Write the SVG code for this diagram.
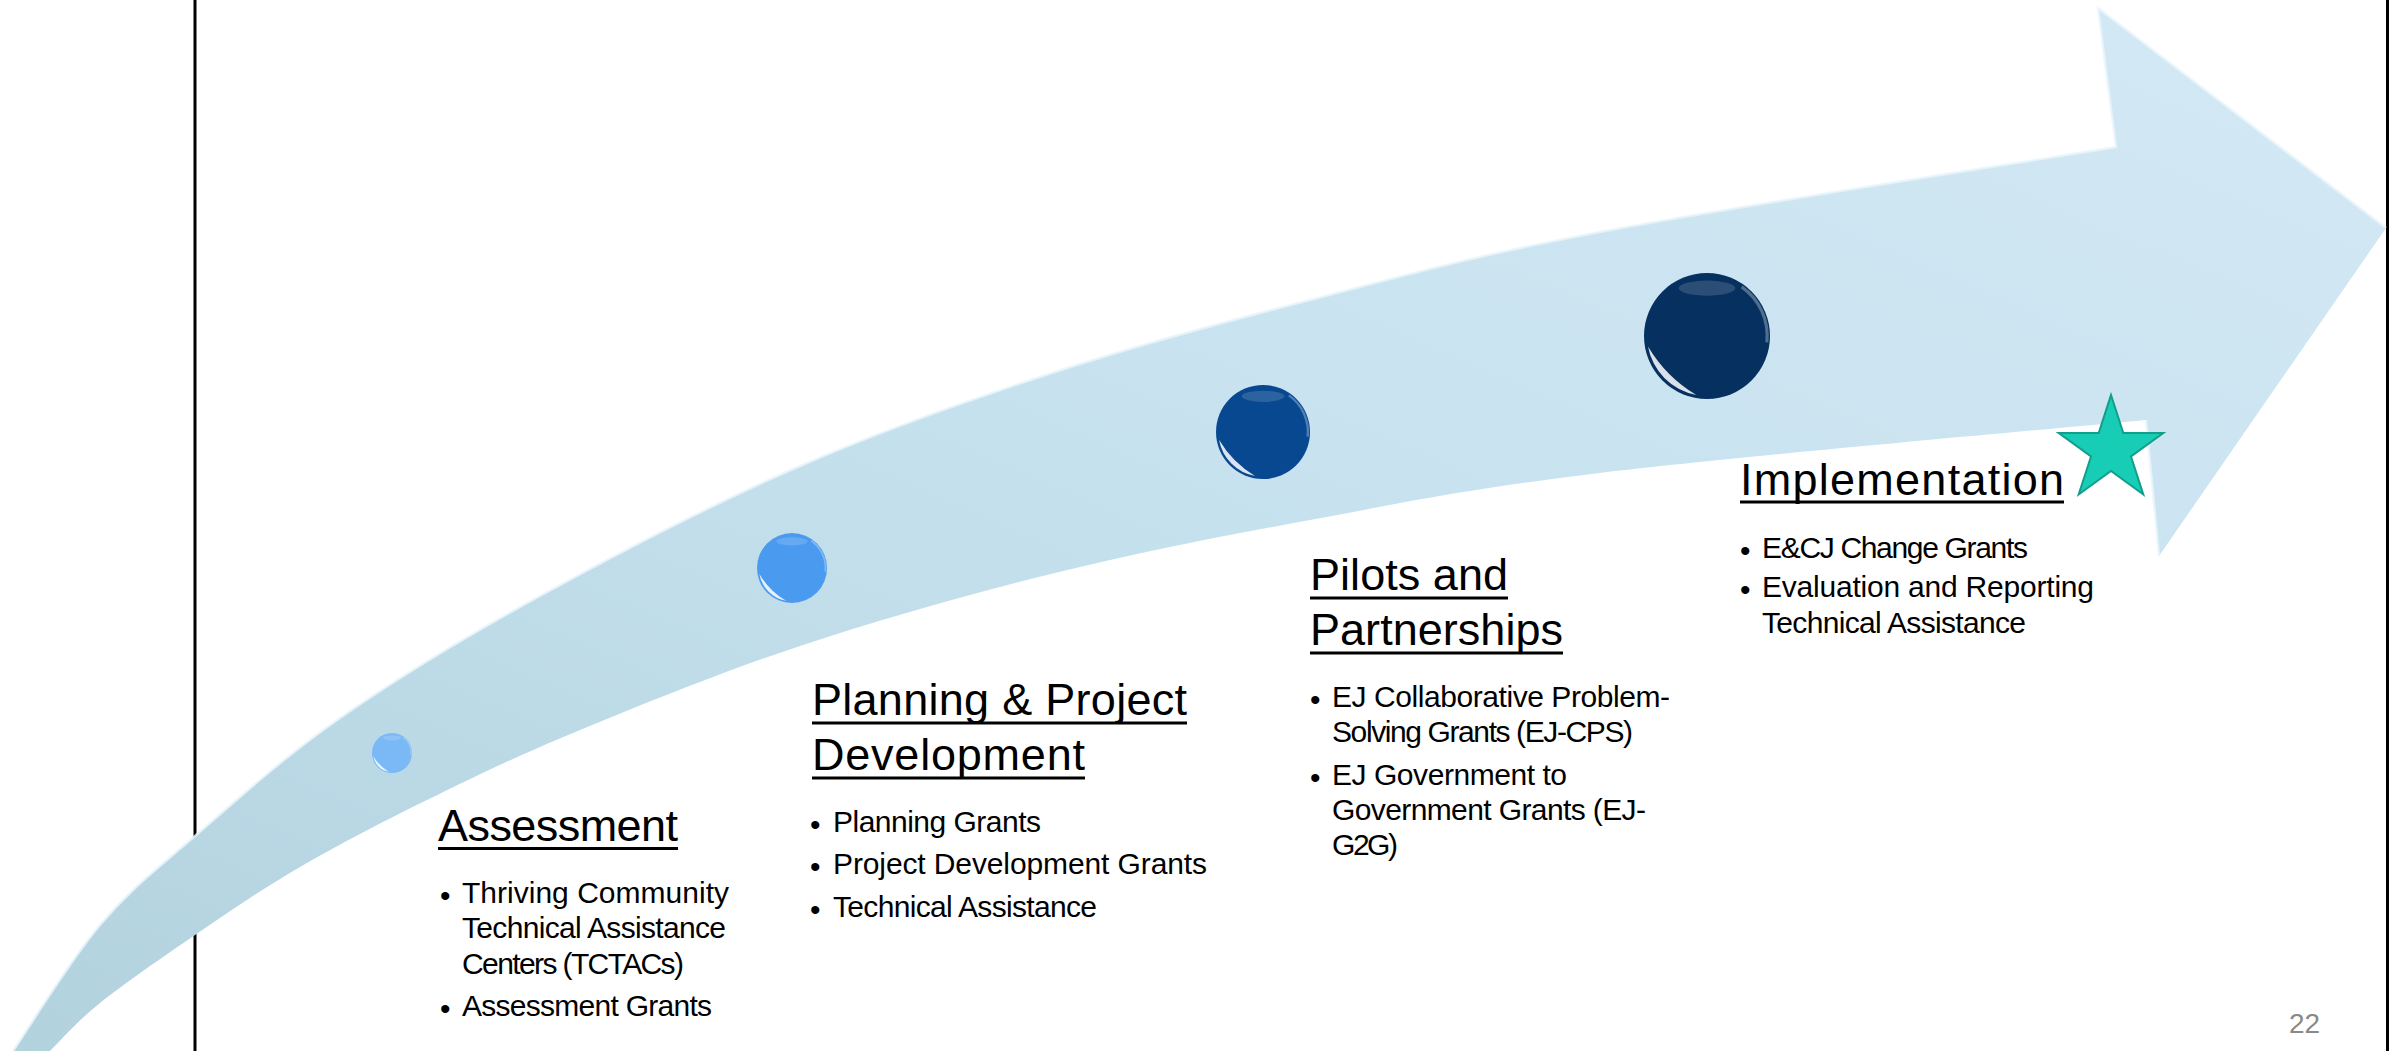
<svg xmlns="http://www.w3.org/2000/svg" xmlns:xlink="http://www.w3.org/1999/xlink" width="2392" height="1051" viewBox="0 0 2392 1051">
  <style>
    .h { font-family: "Liberation Sans", Arial, sans-serif; font-size: 45px; fill: #000; }
    .b { font-family: "Liberation Sans", Arial, sans-serif; font-size: 30px; fill: #000; }
    .ul { stroke: #000; stroke-width: 3; }
    .pg { font-family: "Liberation Sans", Arial, sans-serif; font-size: 28px; fill: #898989; }
    .frame { stroke: #000; stroke-width: 3; }
  </style>
  <defs>
    <linearGradient id="arrowFill" x1="0" y1="1" x2="1" y2="0">
      <stop offset="0" stop-color="#b2d2de"/>
      <stop offset="0.5" stop-color="#c6e1ee"/>
      <stop offset="1" stop-color="#d4e9f5"/>
    </linearGradient>
    <g id="gloss">
      <path d="M-0.17,0.935 A0.95,0.95 0 0 1 -0.936,0.165 A2.2,2.2 0 0 0 -0.17,0.935 Z" fill="#ffffff" opacity="0.85"/>
      <ellipse cx="0" cy="-0.76" rx="0.45" ry="0.12" fill="#ffffff" opacity="0.15"/>
      <path d="M0.55,-0.78 A0.95,0.95 0 0 1 0.95,0.1" fill="none" stroke="#ffffff" stroke-width="0.05" opacity="0.3"/>
    </g>
  </defs>
  <rect x="0" y="0" width="2392" height="1051" fill="#ffffff"/>
  <line class="frame" x1="195" y1="0" x2="195" y2="1051"/>
  <line class="frame" x1="2387.5" y1="0" x2="2387.5" y2="1051"/>

  <g id="connectors">
    <g id="arrow">
      <path fill="url(#arrowFill)" d="M13,1051 C27.5,1030 69.7,960.8 100,925 C130.3,889.2 155,870.5 195,836 C235,801.5 282.5,758 340,718 C397.5,678 463.3,638 540,596 C616.7,554 714.2,503.3 800,466 C885.8,428.7 970,399.7 1055,372 C1140,344.3 1219.2,323.3 1310,300 C1400.8,276.7 1465.7,257.5 1600,232 C1734.3,206.5 2030,161.2 2116,147 L2098,8 L2386,228 L2159,556 L2146,420 C2055,428.8 1739.3,456.3 1600,473 C1460.7,489.7 1400.8,503.3 1310,520 C1219.2,536.7 1140,552 1055,573 C970,594 880.3,619.3 800,646 C719.7,672.7 635.2,707.3 573,733 C510.8,758.7 472.5,777.7 427,800 C381.5,822.3 338.7,844.5 300,867 C261.3,889.5 228.3,912.3 195,935 C161.7,957.7 124.2,983.7 100,1003 C75.8,1022.3 58.3,1043 50,1051 Z"/>
      <path fill="none" stroke="#e9f5fb" stroke-width="2.5" opacity="0.8" d="M13,1051 C27.5,1030 69.7,960.8 100,925 C130.3,889.2 155,870.5 195,836 C235,801.5 282.5,758 340,718 C397.5,678 463.3,638 540,596 C616.7,554 714.2,503.3 800,466 C885.8,428.7 970,399.7 1055,372 C1140,344.3 1219.2,323.3 1310,300 C1400.8,276.7 1465.7,257.5 1600,232 C1734.3,206.5 2030,161.2 2116,147 L2098,8 L2386,228"/>
      <path fill="none" stroke="#e9f5fb" stroke-width="2.5" opacity="0.8" d="M2146,420 L2159,556"/>
    </g>
  </g>

  <g id="assessment">
    <circle cx="392" cy="753" r="20" fill="#7bb9f6"/>
    <use xlink:href="#gloss" href="#gloss" transform="translate(392,753) scale(20)"/>
    <text class="h" x="438" y="841" textLength="240">Assessment</text>
    <line class="ul" x1="438" y1="848.5" x2="678" y2="848.5"/>
    <text class="b" x="440" y="906">•</text>
    <text class="b" x="462" y="903" textLength="267">Thriving Community</text>
    <text class="b" x="462" y="938" textLength="264">Technical Assistance</text>
    <text class="b" x="462" y="974" textLength="222">Centers (TCTACs)</text>
    <text class="b" x="440" y="1019">•</text>
    <text class="b" x="462" y="1016" textLength="250">Assessment Grants</text>
  </g>

  <g id="planning">
    <circle cx="792" cy="568" r="35" fill="#4a9af0"/>
    <use xlink:href="#gloss" href="#gloss" transform="translate(792,568) scale(35)"/>
    <text class="h" x="812" y="715" textLength="375">Planning &amp; Project</text>
    <line class="ul" x1="812" y1="723" x2="1187" y2="723"/>
    <text class="h" x="812" y="770" textLength="273">Development</text>
    <line class="ul" x1="812" y1="778" x2="1085" y2="778"/>
    <text class="b" x="810" y="835">•</text>
    <text class="b" x="833" y="832" textLength="208">Planning Grants</text>
    <text class="b" x="810" y="877">•</text>
    <text class="b" x="833" y="874" textLength="374">Project Development Grants</text>
    <text class="b" x="810" y="920">•</text>
    <text class="b" x="833" y="917" textLength="264">Technical Assistance</text>
  </g>

  <g id="pilots">
    <circle cx="1263" cy="432" r="47" fill="#074891"/>
    <use xlink:href="#gloss" href="#gloss" transform="translate(1263,432) scale(47)"/>
    <text class="h" x="1310" y="590" textLength="198">Pilots and</text>
    <line class="ul" x1="1310" y1="598" x2="1508" y2="598"/>
    <text class="h" x="1310" y="645" textLength="253">Partnerships</text>
    <line class="ul" x1="1310" y1="653" x2="1563" y2="653"/>
    <text class="b" x="1310" y="710">•</text>
    <text class="b" x="1332" y="707" textLength="338">EJ Collaborative Problem-</text>
    <text class="b" x="1332" y="742" textLength="301">Solving Grants (EJ-CPS)</text>
    <text class="b" x="1310" y="788">•</text>
    <text class="b" x="1332" y="785" textLength="235">EJ Government to</text>
    <text class="b" x="1332" y="820" textLength="314">Government Grants (EJ-</text>
    <text class="b" x="1332" y="855" textLength="66">G2G)</text>
  </g>

  <g id="implementation">
    <circle cx="1707" cy="336" r="63" fill="#06305f"/>
    <use xlink:href="#gloss" href="#gloss" transform="translate(1707,336) scale(63)"/>
    <polygon points="2111,395 2123.3,433 2163.3,433 2131,456.5 2143.3,494.5 2111,471 2078.7,494.5 2091,456.5 2058.7,433 2098.7,433" fill="#17cdb6" stroke="#119e8b" stroke-width="2" stroke-linejoin="miter"/>
    <text class="h" x="1740" y="495" textLength="324">Implementation</text>
    <line class="ul" x1="1740" y1="502" x2="2064" y2="502"/>
    <text class="b" x="1740" y="561">•</text>
    <text class="b" x="1762" y="558" textLength="266">E&amp;CJ Change Grants</text>
    <text class="b" x="1740" y="600">•</text>
    <text class="b" x="1762" y="597" textLength="332">Evaluation and Reporting</text>
    <text class="b" x="1762" y="633" textLength="264">Technical Assistance</text>
  </g>

  <text class="pg" x="2289" y="1033">22</text>
</svg>
